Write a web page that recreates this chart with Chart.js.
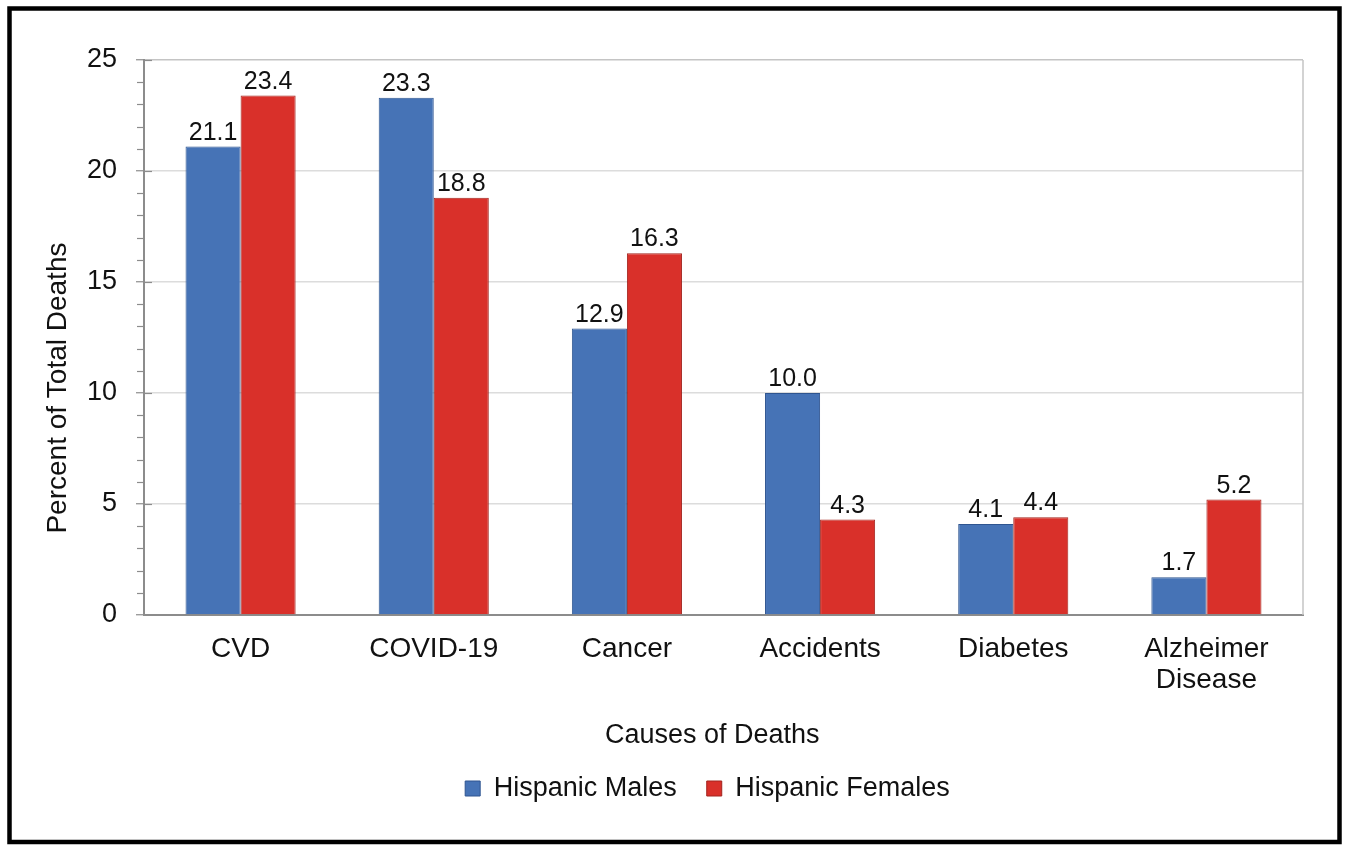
<!DOCTYPE html>
<html>
<head>
<meta charset="utf-8">
<style>
  html, body { margin: 0; padding: 0; background: #fff; }
  canvas { display: block; }
</style>
<script src="https://cdn.jsdelivr.net/npm/chart.js@4.4.1/dist/chart.umd.min.js"></script>
</head>
<body>
<canvas id="c" width="1350" height="851"></canvas>
<script>
const categories = ['CVD', 'COVID-19', 'Cancer', 'Accidents', 'Diabetes', ['Alzheimer', 'Disease']];
const seriesNames = ['Hispanic Males', 'Hispanic Females'];
const malesValues = [21.1, 23.3, 12.9, 10.0, 4.1, 1.7];
const femalesValues = [23.4, 18.8, 16.3, 4.3, 4.4, 5.2];
const yTicks = [0, 5, 10, 15, 20, 25];

const FONT = '"Liberation Sans", Arial, Helvetica, sans-serif';

const framePlugin = {
  id: 'frame',
  afterLayout(chart) {
    const lg = chart.legend;
    if (lg) { lg.left -= 16; lg.right -= 16; }
  },
  afterDraw(chart) {
    const ctx = chart.ctx;
    ctx.save();
    ctx.strokeStyle = '#000';
    ctx.lineWidth = 4.5;
    ctx.strokeRect(9.5, 8.5, 1330, 833.5);
    // right edge of plot area
    const a = chart.chartArea;
    ctx.strokeStyle = '#c4c4c4';
    ctx.lineWidth = 1.5;
    ctx.beginPath();
    ctx.moveTo(a.right, a.top);
    ctx.lineTo(a.right, a.bottom);
    ctx.stroke();
    // minor ticks and inner stubs on y axis
    const y = chart.scales.y;
    ctx.strokeStyle = '#8c8c8c';
    ctx.lineWidth = 1.2;
    for (let v = 1; v <= 25; v++) {
      const py = Math.round(y.getPixelForValue(v)) + 0.5;
      ctx.beginPath();
      if (v % 5 === 0) {
        ctx.moveTo(a.left, py);
        ctx.lineTo(a.left + 8, py);
      } else {
        ctx.moveTo(a.left - 7, py);
        ctx.lineTo(a.left, py);
      }
      ctx.stroke();
    }
    // value labels
    ctx.fillStyle = '#111';
    ctx.font = '25px ' + FONT;
    ctx.textAlign = 'center';
    ctx.textBaseline = 'alphabetic';
    chart.data.datasets.forEach((ds, di) => {
      const meta = chart.getDatasetMeta(di);
      meta.data.forEach((bar, i) => {
        ctx.fillText(ds.data[i].toFixed(1), bar.x, bar.y - 7);
      });
    });
    ctx.restore();
  }
};

new Chart(document.getElementById('c'), {
  type: 'bar',
  data: {
    labels: categories,
    datasets: [
      {
        label: seriesNames[0],
        data: malesValues,
        backgroundColor: '#4673b6',
        borderColor: '#2f5590',
        borderWidth: 1
      },
      {
        label: seriesNames[1],
        data: femalesValues,
        backgroundColor: '#d9302a',
        borderColor: '#a3241e',
        borderWidth: 1
      }
    ]
  },
  options: {
    responsive: false,
    animation: false,
    devicePixelRatio: 1,
    layout: { padding: { left: 0, right: 47, top: 60, bottom: 851 - 615 - 130 - 67 } },
    datasets: {
      bar: { categoryPercentage: 0.57, barPercentage: 1.0 }
    },
    plugins: {
      tooltip: { enabled: false },
      legend: {
        position: 'bottom',
        fullSize: false,
        labels: {
          boxWidth: 15,
          boxHeight: 15,
          padding: 30,
          color: '#111',
          font: { family: FONT, size: 27 }
        }
      }
    },
    scales: {
      x: {
        afterFit(s) { s.height = 130; },
        grid: { display: true, drawOnChartArea: false, drawTicks: false },
        border: { display: true, color: '#8c8c8c', width: 2 },
        ticks: {
          color: '#111',
          padding: 19,
          font: { family: FONT, size: 28, lineHeight: 1.1 }
        },
        title: {
          display: true,
          text: 'Causes of Deaths   ',
          color: '#111',
          font: { family: FONT, size: 27, lineHeight: 1.2 },
          padding: { top: 0, bottom: -7 }
        }
      },
      y: {
        min: 0,
        max: 25,
        afterFit(s) { s.width = 144; },
        afterBuildTicks(s) { s.ticks = yTicks.map(v => ({ value: v })); },
        grid: {
          color: (c) => c.tick && c.tick.value === 0 ? 'rgba(0,0,0,0)' : (c.tick && c.tick.value === 25 ? '#c4c4c4' : '#dcdcdc'),
          lineWidth: 1.5,
          drawTicks: true,
          tickLength: 8,
          tickColor: '#8c8c8c',
          tickWidth: 1.2
        },
        border: { display: true, color: '#8c8c8c', width: 2 },
        ticks: {
          color: '#111',
          padding: 19,
          font: { family: FONT, size: 27 }
        },
        title: {
          display: true,
          text: 'Percent of Total Deaths             ',
          color: '#111',
          font: { family: FONT, size: 28, lineHeight: 1.2 },
          padding: { top: 41, bottom: 0 }
        }
      }
    }
  },
  plugins: [framePlugin]
});
</script>
</body>
</html>
